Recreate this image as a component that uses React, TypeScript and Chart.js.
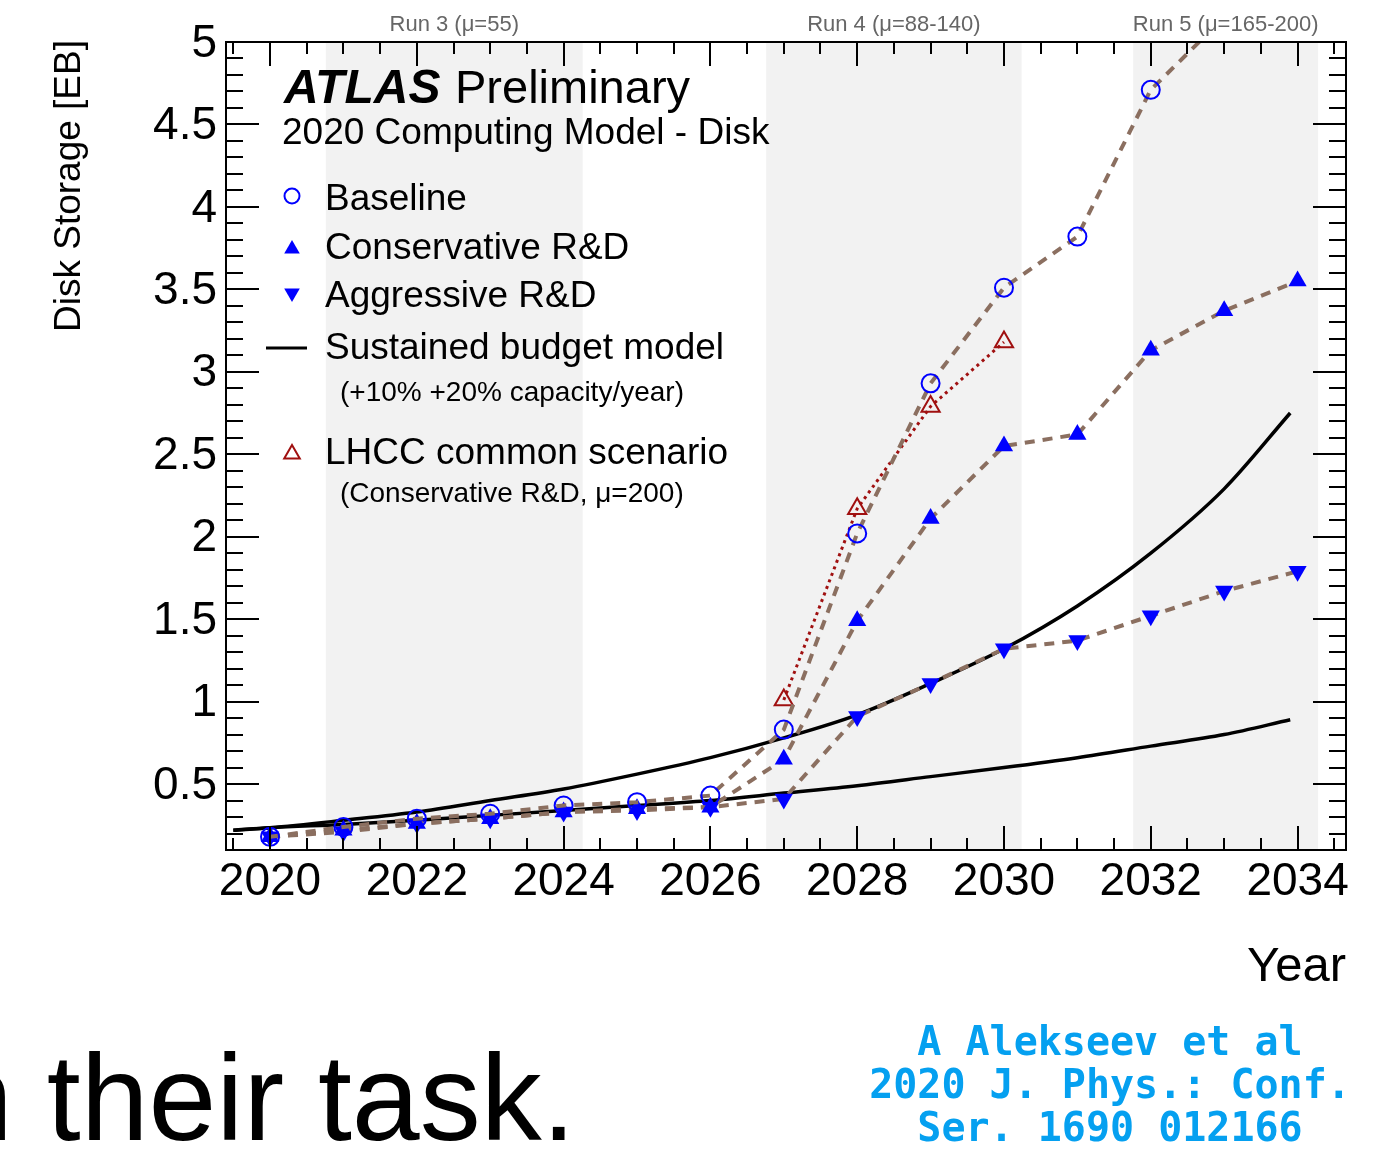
import { useEffect, useRef } from "react";
import { Chart, registerables } from "chart.js";

Chart.register(...registerables);

// ---- data ----
const years = [2020, 2021, 2022, 2023, 2024, 2025, 2026, 2027, 2028, 2029, 2030, 2031, 2032, 2033, 2034];
const baselineYears = [2020, 2021, 2022, 2023, 2024, 2025, 2026, 2027, 2028, 2029, 2030, 2031, 2032, 2033];
const baseline = [0.18, 0.24, 0.29, 0.32, 0.37, 0.39, 0.43, 0.83, 2.02, 2.93, 3.51, 3.82, 4.71, 5.15];
const conservative = [0.18, 0.22, 0.26, 0.29, 0.33, 0.35, 0.36, 0.65, 1.49, 2.11, 2.55, 2.62, 3.13, 3.37, 3.55];
const aggressive = [0.18, 0.21, 0.26, 0.29, 0.33, 0.34, 0.36, 0.41, 0.91, 1.11, 1.32, 1.37, 1.52, 1.67, 1.79];
const lhccYears = [2027, 2028, 2029, 2030];
const lhcc = [1.01, 2.17, 2.79, 3.18];

const budgetYears = [2019.5, 2020, 2021, 2022, 2023, 2024, 2025, 2026, 2027, 2028, 2029, 2030, 2031, 2032, 2033, 2033.9];
const budgetPlus20 = [0.22, 0.235, 0.28, 0.33, 0.4, 0.47, 0.56, 0.66, 0.78, 0.92, 1.11, 1.32, 1.58, 1.9, 2.29, 2.75];
const budgetPlus10 = [0.22, 0.235, 0.255, 0.28, 0.31, 0.34, 0.37, 0.4, 0.445, 0.49, 0.545, 0.6, 0.66, 0.73, 0.8, 0.89];

const runLabels = ["Run 3 (\u03bc=55)", "Run 4 (\u03bc=88-140)", "Run 5 (\u03bc=165-200)"];
const runStart = [2020.76, 2026.76, 2031.76];
const runEnd = [2024.26, 2030.24, 2034.28];

const xTickLabels = [2020, 2022, 2024, 2026, 2028, 2030, 2032, 2034];
const yTickLabels = ["0.5", "1", "1.5", "2", "2.5", "3", "3.5", "4", "4.5", "5"];

const X_MIN = 2019.4;
const X_MAX = 2034.66;
const Y_MIN = 0.1;
const Y_MAX = 5;

const FONT = "'Liberation Sans', Arial, Helvetica, sans-serif";
const BLUE = "#0000ff";
const BROWN = "#8b6f60";
const DARKRED = "#a01010";

const toPoints = (xs: number[], ys: number[]) => ys.map((v, i) => ({ x: xs[i], y: v }));

function tri(ctx: CanvasRenderingContext2D, cx: number, cy: number, r: number, down: boolean) {
  const s = down ? -1 : 1;
  ctx.beginPath();
  ctx.moveTo(cx, cy - s * r);
  ctx.lineTo(cx + r * 0.866, cy + s * r * 0.5);
  ctx.lineTo(cx - r * 0.866, cy + s * r * 0.5);
  ctx.closePath();
}

const decor = {
  id: "decor",
  beforeDatasetsDraw(chart: any) {
    const { ctx, chartArea: a, scales } = chart;
    const xs = scales.x;
    ctx.save();
    ctx.fillStyle = "#f2f2f2";
    runStart.forEach((s, i) => {
      const x0 = xs.getPixelForValue(s);
      const x1 = xs.getPixelForValue(runEnd[i]);
      ctx.fillRect(x0, a.top, x1 - x0, a.bottom - a.top);
    });
    ctx.restore();
  },
  afterDatasetsDraw(chart: any) {
    const { ctx, chartArea: a, scales } = chart;
    const xs = scales.x;
    const ys = scales.y;
    ctx.save();

    // frame
    ctx.strokeStyle = "#000";
    ctx.lineWidth = 2;
    ctx.strokeRect(a.left, a.top, a.right - a.left, a.bottom - a.top);

    // x ticks (inward, top and bottom)
    for (let k = Math.ceil(X_MIN * 2); k <= Math.floor(X_MAX * 2); k++) {
      const v = k / 2;
      const px = Math.round(xs.getPixelForValue(v));
      const major = v % 2 === 0;
      const len = major ? 24 : 12;
      ctx.beginPath();
      ctx.moveTo(px, a.bottom);
      ctx.lineTo(px, a.bottom - len);
      ctx.moveTo(px, a.top);
      ctx.lineTo(px, a.top + len);
      ctx.stroke();
    }
    // y ticks (inward, left and right)
    for (let k = Math.ceil(Y_MIN * 10); k <= Math.floor(Y_MAX * 10); k++) {
      const v = k / 10;
      const py = Math.round(ys.getPixelForValue(v));
      const major = k % 5 === 0;
      const len = major ? 33 : 17;
      ctx.beginPath();
      ctx.moveTo(a.left, py);
      ctx.lineTo(a.left + len, py);
      ctx.moveTo(a.right, py);
      ctx.lineTo(a.right - len, py);
      ctx.stroke();
    }

    // tick labels
    ctx.fillStyle = "#000";
    ctx.font = `46px ${FONT}`;
    ctx.textAlign = "center";
    ctx.textBaseline = "middle";
    xTickLabels.forEach((t) => {
      ctx.fillText(String(t), xs.getPixelForValue(t), 882);
    });
    ctx.textAlign = "right";
    yTickLabels.forEach((t) => {
      ctx.fillText(t, a.left - 9, ys.getPixelForValue(parseFloat(t)) + 2);
    });

    // axis titles
    ctx.font = `49px ${FONT}`;
    ctx.textAlign = "right";
    ctx.fillText("Year", a.right, 967);
    ctx.save();
    ctx.translate(70, a.top - 2);
    ctx.rotate(-Math.PI / 2);
    ctx.font = `37px ${FONT}`;
    ctx.textAlign = "right";
    ctx.fillText("Disk Storage [EB]", 0, 0);
    ctx.restore();

    // run labels
    ctx.font = `22px ${FONT}`;
    ctx.fillStyle = "#666";
    ctx.textAlign = "center";
    runLabels.forEach((l, i) => {
      ctx.fillText(l, xs.getPixelForValue((runStart[i] + runEnd[i]) / 2), 25);
    });

    // title block
    ctx.fillStyle = "#000";
    ctx.textAlign = "left";
    ctx.font = `italic bold 48px ${FONT}`;
    ctx.fillText("ATLAS", 284, 90);
    ctx.font = `47px ${FONT}`;
    ctx.fillText("Preliminary", 455, 90);
    ctx.font = `37px ${FONT}`;
    ctx.fillText("2020 Computing Model - Disk", 282, 134);

    // legend
    ctx.font = `37px ${FONT}`;
    ctx.fillText("Baseline", 325, 200);
    ctx.fillText("Conservative R&D", 325, 249);
    ctx.fillText("Aggressive R&D", 325, 297);
    ctx.fillText("Sustained budget model", 325, 349);
    ctx.fillText("LHCC common scenario", 325, 454);
    ctx.font = `28px ${FONT}`;
    ctx.fillText("(+10% +20% capacity/year)", 340, 393);
    ctx.fillText("(Conservative R&D, \u03bc=200)", 340, 494);

    ctx.lineWidth = 2;
    ctx.strokeStyle = BLUE;
    ctx.beginPath();
    ctx.arc(292, 196, 7.5, 0, Math.PI * 2);
    ctx.stroke();
    ctx.fillStyle = BLUE;
    tri(ctx, 292, 249, 9, false);
    ctx.fill();
    tri(ctx, 292, 293, 9, true);
    ctx.fill();
    ctx.strokeStyle = "#000";
    ctx.lineWidth = 3;
    ctx.beginPath();
    ctx.moveTo(266, 348);
    ctx.lineTo(307, 348);
    ctx.stroke();
    ctx.strokeStyle = DARKRED;
    ctx.lineWidth = 2;
    tri(ctx, 292, 454, 9, false);
    ctx.stroke();

    ctx.restore();
  },
  afterDraw(chart: any) {
    const { ctx } = chart;
    ctx.save();
    // caption fragment and reference
    ctx.fillStyle = "#000";
    ctx.font = `122px ${FONT}`;
    ctx.textAlign = "left";
    ctx.textBaseline = "alphabetic";
    ctx.fillText("n their task.", -55, 1140);

    ctx.fillStyle = "#05a0f0";
    ctx.font = `bold 40px 'DejaVu Sans Mono', monospace`;
    ctx.textAlign = "center";
    ctx.textBaseline = "middle";
    ctx.fillText("A Alekseev et al", 1110, 1045);
    ctx.fillText("2020 J. Phys.: Conf.", 1110, 1088);
    ctx.fillText("Ser. 1690 012166", 1110, 1131);
    ctx.restore();
  },
};

export default function App() {
  const ref = useRef<HTMLCanvasElement>(null);

  useEffect(() => {
    if (!ref.current) return;
    const dashed = {
      borderColor: BROWN,
      borderWidth: 4,
      borderDash: [10, 8],
      tension: 0,
      pointBorderColor: BLUE,
      pointBackgroundColor: BLUE,
    };
    const chart = new Chart(ref.current, {
      type: "line",
      data: {
        datasets: [
          {
            label: "Baseline",
            data: toPoints(baselineYears, baseline),
            ...dashed,
            pointStyle: "circle",
            pointRadius: 9,
            pointBorderWidth: 2,
            pointBackgroundColor: "rgba(0,0,0,0)",
          },
          {
            label: "Conservative R&D",
            data: toPoints(years, conservative),
            ...dashed,
            pointStyle: "triangle",
            pointRadius: 10.5,
            pointBorderWidth: 0,
          },
          {
            label: "Aggressive R&D",
            data: toPoints(years, aggressive),
            ...dashed,
            pointStyle: "triangle",
            pointRotation: 180,
            pointRadius: 10.5,
            pointBorderWidth: 0,
          },
          {
            label: "LHCC common scenario",
            data: toPoints(lhccYears, lhcc),
            borderColor: DARKRED,
            borderWidth: 3,
            borderDash: [3, 4],
            pointStyle: "triangle",
            pointRadius: 10.5,
            pointBorderWidth: 2,
            pointBorderColor: DARKRED,
            pointBackgroundColor: "rgba(0,0,0,0)",
          },
          {
            label: "Sustained budget +20%",
            data: toPoints(budgetYears, budgetPlus20),
            borderColor: "#000",
            borderWidth: 3.5,
            pointRadius: 0,
            cubicInterpolationMode: "monotone",
          },
          {
            label: "Sustained budget +10%",
            data: toPoints(budgetYears, budgetPlus10),
            borderColor: "#000",
            borderWidth: 3.5,
            pointRadius: 0,
            cubicInterpolationMode: "monotone",
          },
        ],
      },
      options: {
        responsive: false,
        animation: false,
        devicePixelRatio: 1,
        layout: { padding: { left: 226, right: 47, top: 42, bottom: 299 } },
        plugins: { legend: { display: false }, tooltip: { enabled: false } },
        scales: {
          x: { type: "linear", min: X_MIN, max: X_MAX, display: false },
          y: { type: "linear", min: Y_MIN, max: Y_MAX, display: false },
        },
      } as any,
      plugins: [decor],
    });
    return () => chart.destroy();
  }, []);

  return (
    <div style={{ position: "absolute", left: 0, top: 0, width: 1393, height: 1149, background: "#fff" }}>
      <canvas ref={ref} width={1393} height={1149} style={{ display: "block" }} />
    </div>
  );
}
